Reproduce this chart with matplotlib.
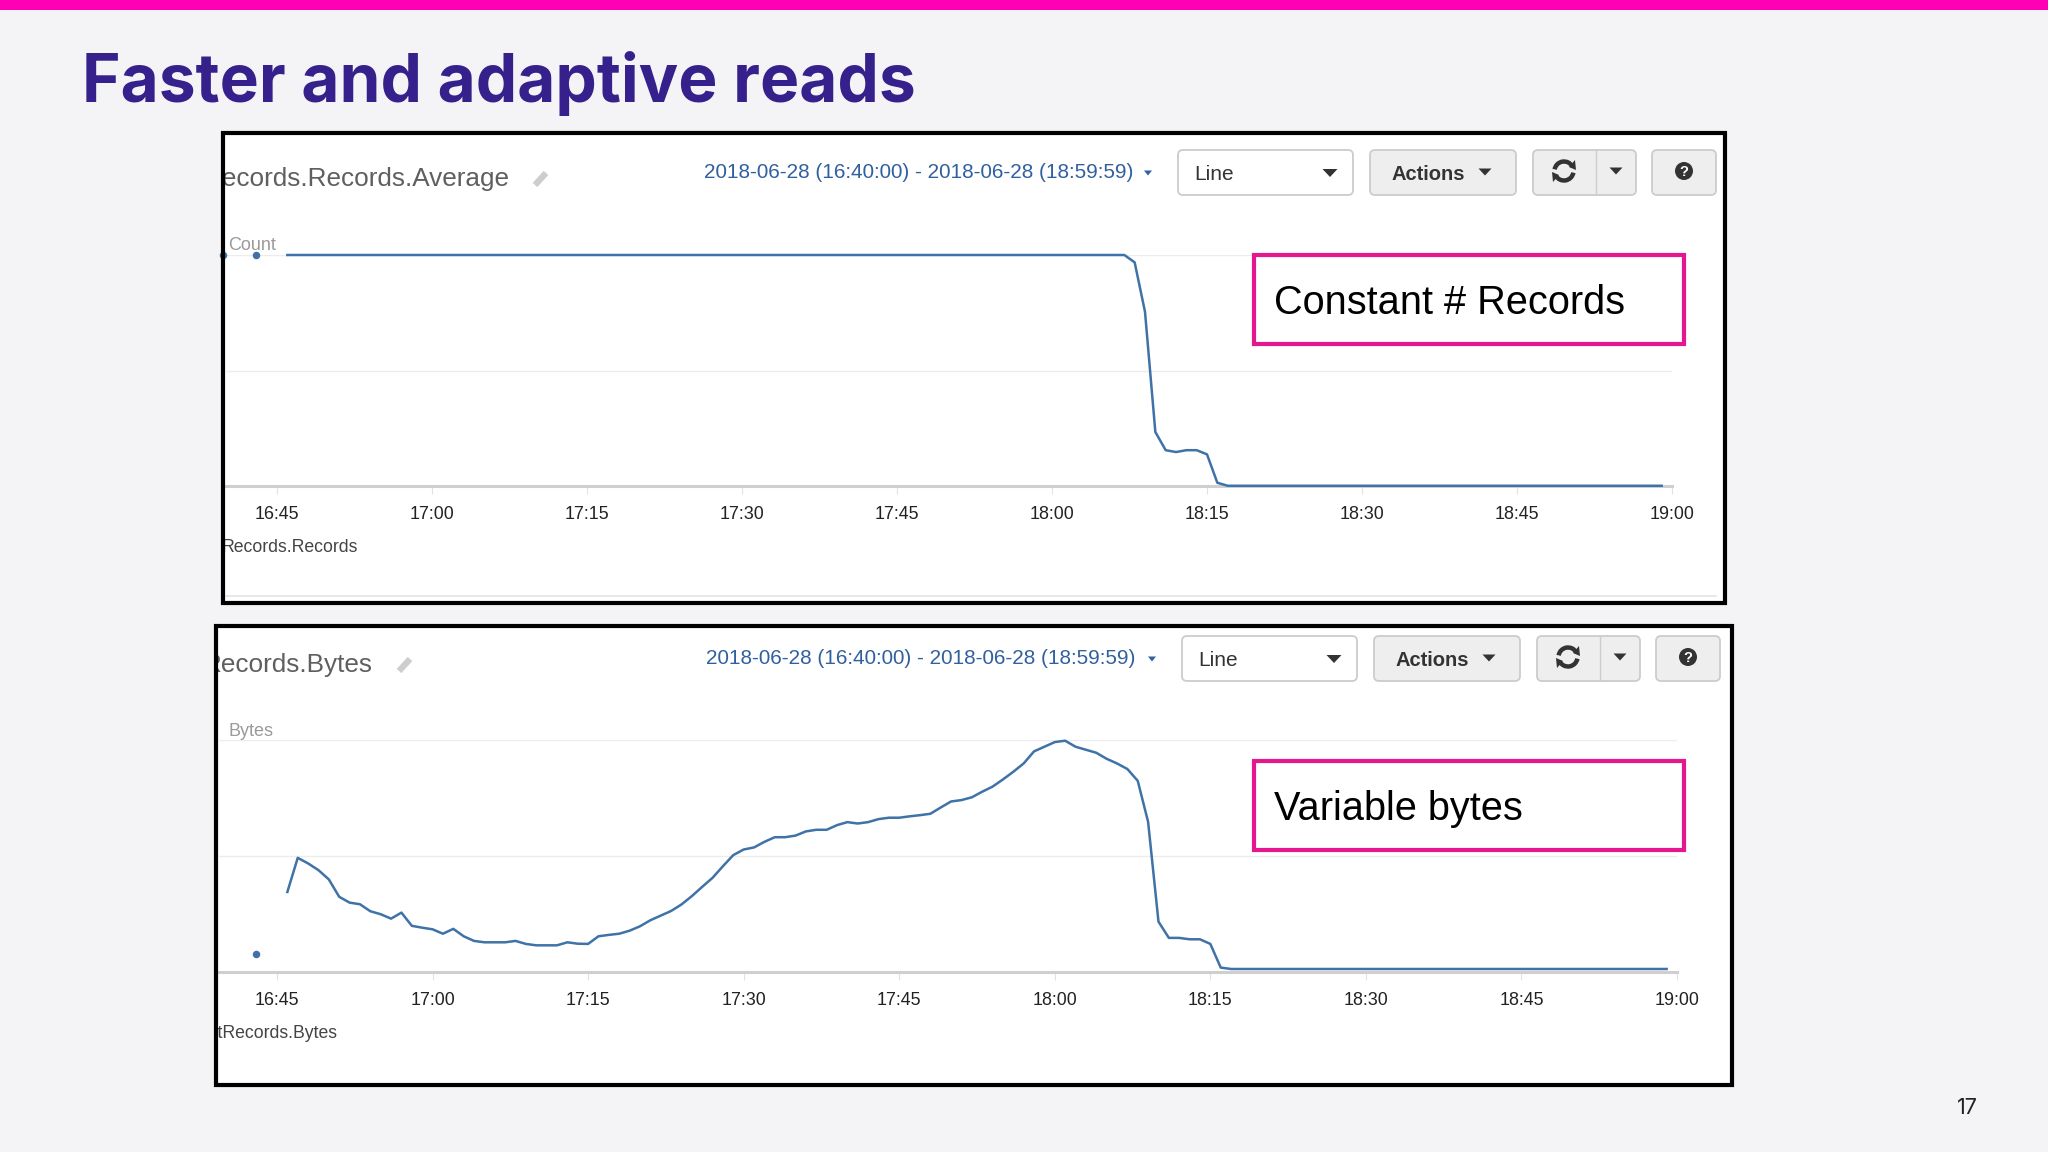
import matplotlib
matplotlib.use("Agg")
import matplotlib.pyplot as plt
from matplotlib.patches import Rectangle, FancyBboxPatch, Polygon, Circle, Arc
from matplotlib.transforms import Bbox

W, H = 2048, 1152

# minutes after 16:45, one sample per minute from 16:46 to 18:59
minutes = list(range(1, 135))
tick_minutes = [0, 15, 30, 45, 60, 75, 90, 105, 120, 135]
tick_labels = ["16:45", "17:00", "17:15", "17:30", "17:45", "18:00", "18:15", "18:30", "18:45", "19:00"]

# values as a fraction of the top gridline (the picture has no y labels)
records_avg = [
    1.0, 1.0, 1.0, 1.0, 1.0, 1.0, 1.0, 1.0, 1.0, 1.0,
    1.0, 1.0, 1.0, 1.0, 1.0, 1.0, 1.0, 1.0, 1.0, 1.0,
    1.0, 1.0, 1.0, 1.0, 1.0, 1.0, 1.0, 1.0, 1.0, 1.0,
    1.0, 1.0, 1.0, 1.0, 1.0, 1.0, 1.0, 1.0, 1.0, 1.0,
    1.0, 1.0, 1.0, 1.0, 1.0, 1.0, 1.0, 1.0, 1.0, 1.0,
    1.0, 1.0, 1.0, 1.0, 1.0, 1.0, 1.0, 1.0, 1.0, 1.0,
    1.0, 1.0, 1.0, 1.0, 1.0, 1.0, 1.0, 1.0, 1.0, 1.0,
    1.0, 1.0, 1.0, 1.0, 1.0, 1.0, 1.0, 1.0, 1.0, 1.0,
    1.0, 1.0, 0.968, 0.754, 0.234, 0.155, 0.147, 0.155, 0.155, 0.137,
    0.014, 0.001, 0.001, 0.001, 0.001, 0.001, 0.001, 0.001, 0.001, 0.001,
    0.001, 0.001, 0.001, 0.001, 0.001, 0.001, 0.001, 0.001, 0.001, 0.001,
    0.001, 0.001, 0.001, 0.001, 0.001, 0.001, 0.001, 0.001, 0.001, 0.001,
    0.001, 0.001, 0.001, 0.001, 0.001, 0.001, 0.001, 0.001, 0.001, 0.001,
    0.001, 0.001, 0.001, 0.001,
]
records_dots_x = [-5.2, -2]
records_dots_y = [1.0, 1.0]

bytes_vals = [
    0.345, 0.492, 0.468, 0.439, 0.399, 0.324, 0.299, 0.292, 0.262, 0.249,
    0.230, 0.256, 0.199, 0.191, 0.184, 0.165, 0.186, 0.154, 0.134, 0.128,
    0.128, 0.128, 0.134, 0.121, 0.115, 0.115, 0.115, 0.128, 0.122, 0.121,
    0.154, 0.160, 0.165, 0.178, 0.197, 0.223, 0.243, 0.263, 0.291, 0.327,
    0.367, 0.406, 0.456, 0.504, 0.528, 0.537, 0.561, 0.581, 0.581, 0.588,
    0.606, 0.613, 0.613, 0.633, 0.646, 0.640, 0.646, 0.659, 0.665, 0.665,
    0.671, 0.676, 0.682, 0.709, 0.735, 0.741, 0.753, 0.777, 0.799, 0.830,
    0.863, 0.899, 0.951, 0.971, 0.991, 0.997, 0.971, 0.958, 0.945, 0.919,
    0.899, 0.875, 0.824, 0.647, 0.217, 0.147, 0.147, 0.141, 0.141, 0.121,
    0.019, 0.013, 0.013, 0.013, 0.013, 0.013, 0.013, 0.013, 0.013, 0.013,
    0.013, 0.013, 0.013, 0.013, 0.013, 0.013, 0.013, 0.013, 0.013, 0.013,
    0.013, 0.013, 0.013, 0.013, 0.013, 0.013, 0.013, 0.013, 0.013, 0.013,
    0.013, 0.013, 0.013, 0.013, 0.013, 0.013, 0.013, 0.013, 0.013, 0.013,
    0.013, 0.013, 0.013, 0.013,
]
bytes_dots_x = [-2]
bytes_dots_y = [0.079]

date_range = "2018-06-28 (16:40:00) - 2018-06-28 (18:59:59)"

BG = "#f4f3f6"
PINK = "#e5178f"
BLUE = "#3f72a6"
LINK = "#31609f"
UI_FONT = "Liberation Sans"

fig = plt.figure(figsize=(W / 100, H / 100), dpi=100, facecolor=BG)


def pixel_axes(zorder):
    # whole-figure axes measured in pixels, y going down
    ax = fig.add_axes([0, 0, 1, 1], zorder=zorder)
    ax.set_xlim(0, W)
    ax.set_ylim(H, 0)
    ax.axis("off")
    ax.patch.set_alpha(0)
    return ax


back = pixel_axes(0)
front = pixel_axes(3)


def button(x0, x1, y0, y1, face="#eeeeee", edge="#cccccc"):
    back.add_patch(FancyBboxPatch((x0 + 5, y0 + 5), x1 - x0 - 10, y1 - y0 - 10,
                                  boxstyle="round,pad=5", fc=face, ec=edge, lw=1.3))


def caret(cx, cy, w, h, color="#333333"):
    back.add_patch(Polygon([(cx - w / 2, cy - h / 2), (cx + w / 2, cy - h / 2), (cx, cy + h / 2)],
                           closed=True, fc=color, ec="none"))


def toolbar(date_x, dx, y):
    # dx shifts the controls of the second panel, y is the top of the buttons
    back.text(date_x, y + 22, date_range, color=LINK, fontsize=14.98, family=UI_FONT,
              ha="left", va="center")
    caret(1148 + dx, y + 23, 8, 5, LINK)
    button(1178 + dx, 1353 + dx, y, y + 45, face="white")
    back.text(1194 + dx, y + 25, "Line", color="#333333", fontsize=15, family=UI_FONT,
              ha="left", va="center")
    caret(1330 + dx, y + 23, 15, 8)
    button(1370 + dx, 1516 + dx, y, y + 45)
    back.text(1392 + dx, y + 24, "Actions", color="#333333", fontsize=14.5, family=UI_FONT,
              fontweight="bold", ha="left", va="center")
    caret(1485 + dx, y + 22, 13, 7)
    button(1533 + dx, 1636 + dx, y, y + 45)
    back.plot([1596 + dx, 1596 + dx], [y + 1, y + 44], color="#cccccc", lw=1)
    cx, cy = 1564 + dx, y + 21
    back.add_patch(Arc((cx, cy), 19, 19, theta1=190, theta2=330, color="#333333", lw=3.2))
    back.add_patch(Arc((cx, cy), 19, 19, theta1=10, theta2=150, color="#333333", lw=3.2))
    back.add_patch(Polygon([(cx + 5, cy - 4), (cx + 11, cy - 11), (cx + 12, cy - 1)], fc="#333333", ec="none"))
    back.add_patch(Polygon([(cx - 5, cy + 4), (cx - 11, cy + 11), (cx - 12, cy + 1)], fc="#333333", ec="none"))
    caret(1616 + dx, y + 21, 13, 7)
    button(1652 + dx, 1716 + dx, y, y + 45)
    back.add_patch(Circle((1684 + dx, y + 21), 9, fc="#333333", ec="none"))
    back.text(1684 + dx, y + 21.5, "?", color="white", fontsize=10.5, family=UI_FONT,
              fontweight="bold", ha="center", va="center")


def pencil(cx, cy):
    back.plot([cx - 6, cx + 5], [cy + 6, cy - 6], color="#cdcdcd", lw=4.5, solid_capstyle="butt")


def clipped_text(x, y, text, frame, **kw):
    t = back.text(x, y, text, family=UI_FONT, ha="right", va="center", clip_on=True, **kw)
    t.set_clip_box(Bbox([[frame[0], H - frame[3]], [frame[1], H - frame[2]]]))


def chart(px_left, px_right, px_top, px_base, xlim, y, dots_x, dots_y):
    ax = fig.add_axes([px_left / W, 1 - px_base / H, (px_right - px_left) / W, (px_base - px_top) / H],
                      zorder=2)
    ax.patch.set_alpha(0)
    ax.set_xlim(*xlim)
    ax.set_ylim(0, 1)
    ax.plot(minutes, y, color=BLUE, lw=1.8, clip_on=False, zorder=4)
    ax.plot(dots_x, dots_y, "o", color=BLUE, ms=4.4, clip_on=False, zorder=4)
    for s in ("top", "left", "right"):
        ax.spines[s].set_visible(False)
    ax.spines["bottom"].set_color("#cfcfcf")
    ax.spines["bottom"].set_linewidth(2.2)
    ax.set_yticks([0.5, 1.0])
    ax.set_yticklabels([])
    ax.tick_params(axis="y", length=0)
    ax.grid(axis="y", color="#ececec", lw=1)
    ax.set_xticks(tick_minutes)
    ax.set_xticklabels(tick_labels, family=UI_FONT, fontsize=12.9, color="#222222")
    ax.tick_params(axis="x", length=6, width=0.8, color="#e2e2e2", pad=8.5)
    for t in ax.get_xticklabels():
        t.set_clip_on(False)
    return ax


# slide furniture
back.add_patch(Rectangle((0, 0), W, 10, fc="#ff00b4", ec="none"))
back.text(82, 84, "Faster and adaptive reads", color="#35208c", fontsize=47.4, family="Inter",
          fontweight="bold", ha="left", va="center")
back.text(1967, 1108, "17", color="#222222", fontsize=15.5, family="Inter", ha="center", va="center")

# panel 1
frame1 = (223, 1725, 133, 603)
back.add_patch(Rectangle((frame1[0], frame1[2]), frame1[1] - frame1[0], frame1[3] - frame1[2], fc="white", ec="none"))
clipped_text(510, 179, "Records.Records.Average", frame1, color="#5f5f5f", fontsize=18.8)
pencil(541, 179)
toolbar(704, 0, 150)
back.text(228, 245, "Count", color="#9a9a9a", fontsize=13, family=UI_FONT, ha="left", va="center")
clipped_text(358, 548, "Records.Records", frame1, color="#444444", fontsize=12.7)
back.plot([226, 1716], [596, 596], color="#e4e4e4", lw=1.2)
chart(226, 1672, 255, 486, ((226 - 277) / 10.33, 135), records_avg, records_dots_x, records_dots_y)

# panel 2
frame2 = (216, 1732, 626, 1085)
back.add_patch(Rectangle((frame2[0], frame2[2]), frame2[1] - frame2[0], frame2[3] - frame2[2], fc="white", ec="none"))
clipped_text(373, 665, "Records.Bytes", frame2, color="#5f5f5f", fontsize=18.8)
pencil(405, 665)
toolbar(705.5, 4, 636)
back.text(228, 731, "Bytes", color="#9a9a9a", fontsize=13, family=UI_FONT, ha="left", va="center")
clipped_text(337, 1034, "GetRecords.Bytes", frame2, color="#444444", fontsize=12.7)
chart(219, 1677, 740, 972, ((219 - 277) / 10.37, 135), bytes_vals, bytes_dots_x, bytes_dots_y)

# frames and callouts go over everything
for f in (frame1, frame2):
    front.add_patch(Rectangle((f[0], f[2]), f[1] - f[0], f[3] - f[2], fc="none", ec="black", lw=3))
for top, label in ((255, "Constant # Records"), (761, "Variable bytes")):
    front.add_patch(Rectangle((1254, top), 430, 89, fc="white", ec=PINK, lw=3))
    front.text(1274, top + 48, label, color="black", fontsize=28.6, family=UI_FONT, ha="left", va="center")

fig.savefig("out.png", dpi=100, facecolor=BG)
